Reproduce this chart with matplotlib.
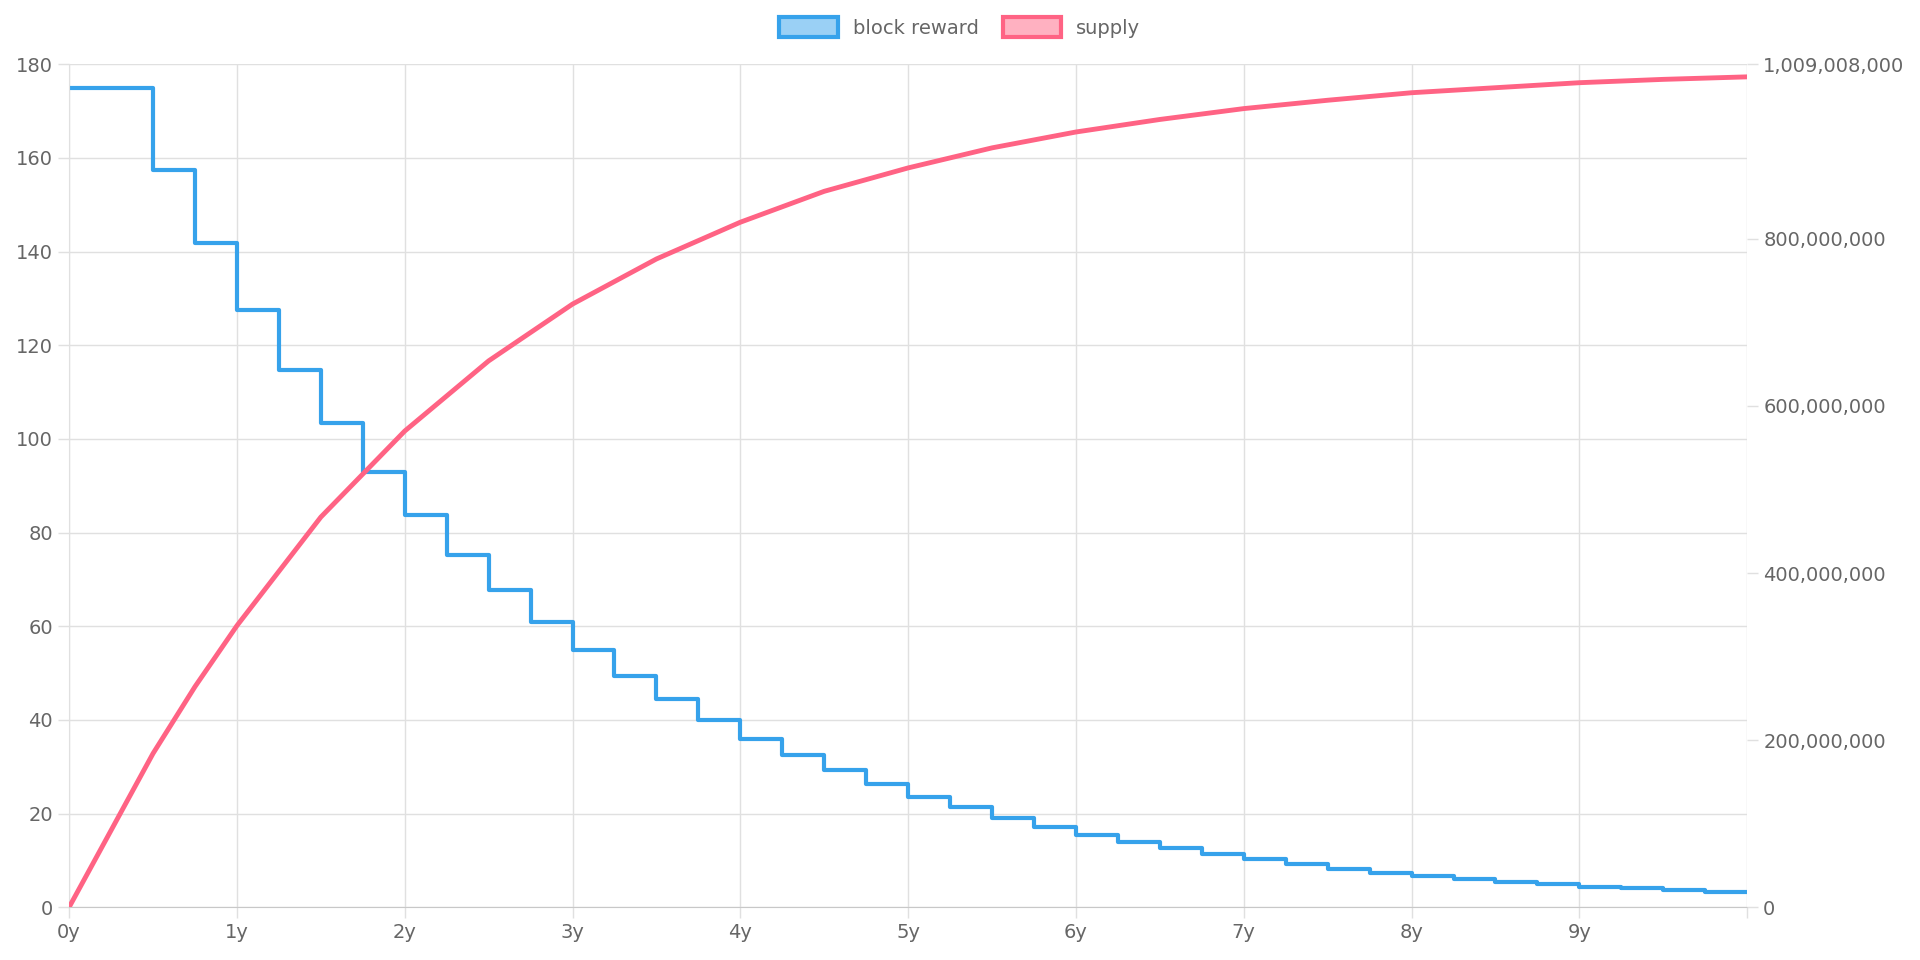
import numpy as np
import matplotlib.pyplot as plt

# block reward steps (years, reward)
step_starts = [0, 0.5, 0.75, 1, 1.25, 1.5, 1.75, 2, 2.25, 2.5, 2.75, 3, 3.25, 3.5, 3.75,
               4, 4.25, 4.5, 4.75, 5, 5.25, 5.5, 5.75, 6, 6.25, 6.5, 6.75, 7, 7.25, 7.5,
               7.75, 8, 8.25, 8.5, 8.75, 9, 9.25, 9.5, 9.75]
rewards = [175, 157.5, 141.75, 127.6, 114.8, 103.3, 93, 83.7, 75.3, 67.8, 61, 54.9, 49.4,
           44.5, 40, 36, 32.4, 29.2, 26.3, 23.6, 21.3, 19.1, 17.2, 15.5, 14, 12.6, 11.3,
           10.2, 9.2, 8.2, 7.4, 6.7, 6.0, 5.4, 4.9, 4.4, 4.0, 3.6, 3.2]

supply_years = [0, 0.25, 0.5, 0.75, 1, 1.5, 2, 2.5, 3, 3.5, 4, 4.5, 5, 5.5, 6, 6.5, 7,
                7.5, 8, 8.5, 9, 9.5, 10]
supply = [0, 92e6, 184e6, 264e6, 337e6, 467e6, 570e6, 654e6, 722e6, 776e6, 820e6, 857e6,
          885e6, 909e6, 928e6, 943e6, 956e6, 966e6, 975e6, 981e6, 987e6, 991e6, 994e6]

max_supply = 1009008000
blue = "#36a2eb"
red = "#ff6384"
grey = "#666666"

fig = plt.figure(figsize=(19.2, 9.6), dpi=100)
ax = fig.add_axes([0.036, 0.055, 0.874, 0.878])
ax2 = ax.twinx()

xs = step_starts + [10]
ys = rewards + [rewards[-1]]
l1, = ax.step(xs, ys, where="post", color=blue, lw=3, label="block reward")
l2, = ax2.plot(supply_years, supply, color=red, lw=3.5, label="supply")

ax.set_xlim(0, 10)
ax.set_ylim(0, 180)
ax.set_yticks(range(0, 181, 20))
ax.set_xticks(range(0, 11))
ax.set_xticklabels([f"{i}y" for i in range(10)] + [""])
ax2.set_ylim(0, max_supply)
ax2.set_yticks([0, 200e6, 400e6, 600e6, 800e6, max_supply])
ax2.set_yticklabels(["0", "200,000,000", "400,000,000", "600,000,000", "800,000,000",
                     "1,009,008,000"])

ax.grid(True, color="#e0e0e0", lw=1)
ax.set_axisbelow(True)
for a in (ax, ax2):
    for s in a.spines.values():
        s.set_visible(False)
    a.tick_params(colors=grey, labelsize=14, length=8, width=1)
    a.tick_params(axis="both", color="#e0e0e0")
ax.spines["bottom"].set_visible(True)
ax.spines["bottom"].set_color("#c8c8c8")
ax.spines["left"].set_visible(True)
ax.spines["left"].set_color("#e0e0e0")

from matplotlib.patches import Patch
handles = [Patch(facecolor="#9ad0f5", edgecolor=blue, lw=3),
           Patch(facecolor="#ffb1c1", edgecolor=red, lw=3)]
fig.legend(handles, ["block reward", "supply"], loc="upper center", ncol=2,
           frameon=False, fontsize=14, labelcolor=grey, bbox_to_anchor=(0.5, 1.0),
           handlelength=3, handleheight=1.2, columnspacing=1.2)

fig.savefig("out.png")
